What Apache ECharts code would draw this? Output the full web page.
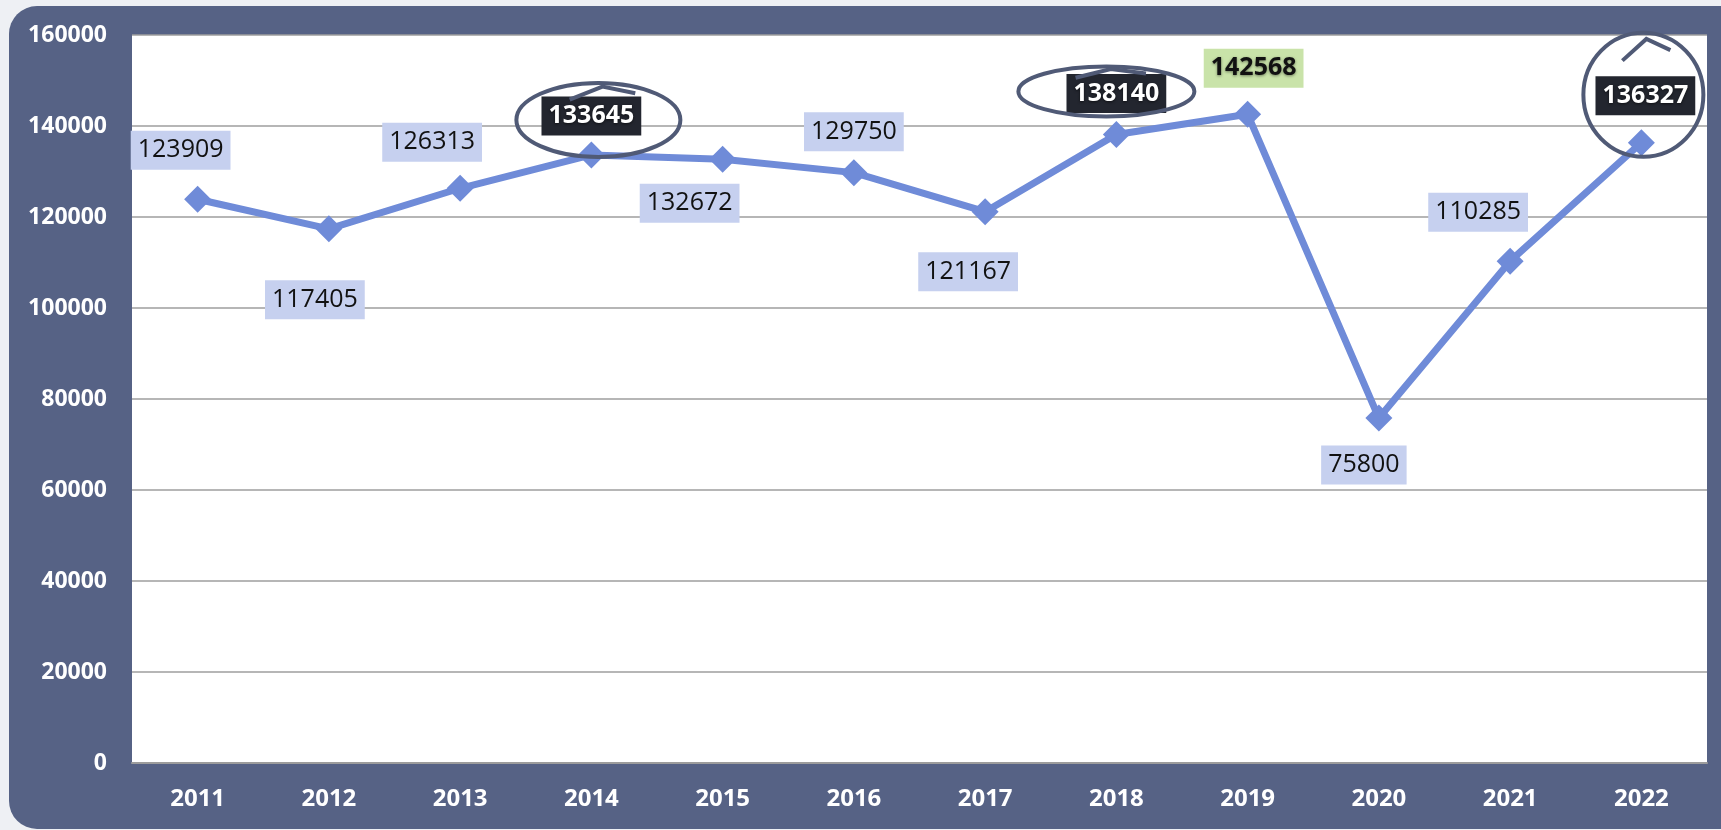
<!DOCTYPE html>
<html>
<head>
<meta charset="utf-8">
<script src="https://cdn.jsdelivr.net/npm/echarts@6/dist/echarts.min.js"></script>
<style>
  html, body { margin: 0; padding: 0; background: #eef0f4; }
  #main { width: 1721px; height: 830px; }
</style>
</head>
<body>
<div id="main"></div>
<script>
let years = ['2011', '2012', '2013', '2014', '2015', '2016', '2017', '2018', '2019', '2020', '2021', '2022'];
let values = [123909, 117405, 126313, 133645, 132672, 129750, 121167, 138140, 142568, 75800, 110285, 136327];
let yTicks = [0, 20000, 40000, 60000, 80000, 100000, 120000, 140000, 160000];

// label box placement relative to each point
let labelOffsets = [[-17, -49], [-14, 71], [-28, -46], [0, -39], [-33, 44], [0, -41],
                    [-17, 60], [0, -41], [6, -46], [-15, 47], [-32, -49], [4, -47]];
let darkYears = ['2014', '2018', '2022'];   // 圈出来的
let greenYear = '2019';
// hand drawn rings: [year, dx, dy, rx, ry]
let rings = [['2014', 7, -35, 82, 37], ['2018', -10, -43, 88, 25], ['2022', 2, -48, 60, 62]];

(function() {
    let chart = echarts.init(document.getElementById('main'));

    let seriesData = values.map(function(v, i) {
        let label = {offset: labelOffsets[i]};
        if (darkYears.indexOf(years[i]) >= 0) {
            label.backgroundColor = '#23262f';
            label.color = '#ffffff';
            label.fontWeight = 'bold';
            label.textShadowColor = 'rgba(0,0,0,0.6)';
            label.textShadowBlur = 3;
            label.textShadowOffsetY = 1;
        } else if (years[i] === greenYear) {
            label.backgroundColor = '#c9e3a9';
            label.fontWeight = 'bold';
            label.textShadowColor = 'rgba(0,0,0,0.45)';
            label.textShadowBlur = 3;
            label.textShadowOffsetY = 1;
        }
        return {value: v, label: label};
    });

    let option = {
        animation: false,
        backgroundColor: '#eef0f4',
        graphic: [{
            type: 'rect',
            z: -10,
            shape: {x: 9, y: 6, width: 1740, height: 823, r: 28},
            style: {fill: '#566285'}
        }],
        grid: {
            left: 132, top: 35, right: 14, bottom: 67,
            containLabel: false,
            show: true,
            backgroundColor: '#ffffff',
            borderWidth: 0
        },
        xAxis: {
            type: 'category',
            data: years,
            boundaryGap: true,
            axisTick: {show: false},
            axisLine: {lineStyle: {color: '#9c9c9c', width: 2}},
            axisLabel: {color: '#ffffff', fontWeight: 'bold', fontSize: 24, fontFamily: 'Open Sans', margin: 24}
        },
        yAxis: {
            type: 'value',
            min: yTicks[0],
            max: yTicks[yTicks.length - 1],
            interval: yTicks[1] - yTicks[0],
            axisLine: {show: false},
            axisTick: {show: false},
            splitLine: {lineStyle: {color: '#9e9e9e', width: 1.5}},
            axisLabel: {
                color: '#ffffff', fontWeight: 'bold', fontSize: 23, fontFamily: 'Open Sans', margin: 25,
                formatter: function(v) { return String(v); }
            }
        },
        series: [{
            type: 'line',
            data: seriesData,
            symbol: 'diamond',
            symbolSize: 27,
            lineStyle: {color: '#6f8bd8', width: 7},
            itemStyle: {color: '#6f8bd8'},
            label: {
                show: true,
                position: 'inside',
                color: '#111111',
                fontSize: 25,
                fontFamily: 'Open Sans',
                backgroundColor: '#c6d0ef',
                padding: [7, 7]
            }
        }]
    };
    chart.setOption(option);

    // rings drawn around the picked labels, placed from the data points
    let extra = [];
    rings.forEach(function(r) {
        let idx = years.indexOf(r[0]);
        let p = chart.convertToPixel({seriesIndex: 0}, [idx, values[idx]]);
        let cx = p[0] + r[1], cy = p[1] + r[2];
        extra.push({
            type: 'ellipse',
            z: 100,
            shape: {cx: cx, cy: cy, rx: r[3], ry: r[4]},
            style: {fill: 'none', stroke: '#505a76', lineWidth: 4}
        });
        extra.push({
            type: 'polyline',
            z: 100,
            shape: {points: [[cx - r[3] * 0.35, cy - r[4] * 0.55], [cx + r[3] * 0.05, cy - r[4] * 0.9], [cx + r[3] * 0.45, cy - r[4] * 0.72]]},
            style: {fill: 'none', stroke: '#505a76', lineWidth: 4}
        });
    });
    chart.setOption({graphic: option.graphic.concat(extra)});
})();
</script>
</body>
</html>
